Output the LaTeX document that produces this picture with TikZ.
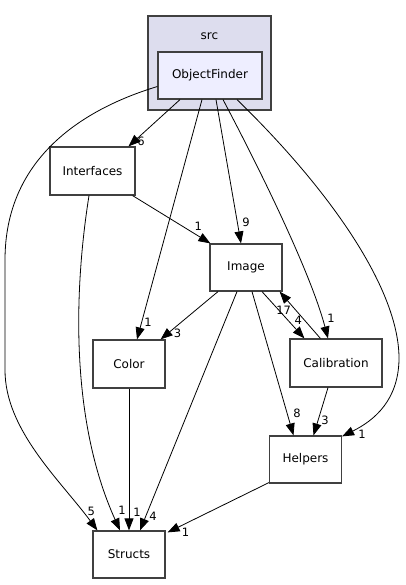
\documentclass[tikz,border=0pt]{standalone}
\usepackage{fontspec}
\setmainfont{DejaVu Sans}
\usepackage{tikz}
\usetikzlibrary{calc}
\usetikzlibrary{positioning}
\usetikzlibrary{arrows.meta}
\definecolor{clusterfill}{HTML}{DDDDEE}
\definecolor{mainfill}{HTML}{EEEEFF}
\definecolor{boxline}{HTML}{404040}
\tikzstyle{dirnode} = [draw=boxline, line width=1.2pt, rectangle, minimum width=72pt, minimum height=47pt, inner sep=0pt, align=center, font=\fontsize{12}{14}\selectfont]
\tikzstyle{clusternode} = [draw=boxline, line width=1.2pt, fill=clusterfill, rectangle, minimum width=123pt, minimum height=94pt, inner sep=0pt]
\tikzstyle{edge} = [-{Triangle[length=12pt,width=9pt]}, line width=0.8pt]
\tikzstyle{elabel} = [inner sep=0pt, font=\fontsize{11.5}{13}\selectfont]

\begin{document}
\begin{tikzpicture}[x=1pt, y=-1pt]
    \useasboundingbox (0,0) rectangle (405,585);

    \node[clusternode] (src) at (209.5,63) {};
    \node[elabel, font=\fontsize{12}{14}\selectfont] (src_label) at ($(src.north)+(0,21)$) {src};
    \node[dirnode, fill=mainfill, minimum width=104pt] (objfinder) at ($(src)+(0.5,12.5)$) {ObjectFinder};

    \node[dirnode, minimum width=85pt, minimum height=48pt] (interfaces) at ($(objfinder)+(-117.5,95.5)$) {Interfaces};
    \node[dirnode] (image) at ($(objfinder)+(36,192)$) {Image};
    \node[dirnode, minimum height=48pt] (color) at ($(image)+(-117,96.5)$) {Color};
    \node[dirnode, minimum width=92pt, minimum height=48pt] (calibration) at ($(image)+(90,95.5)$) {Calibration};
    \node[dirnode] (helpers) at ($(calibration)+(-30.5,96.5)$) {Helpers};
    \node[dirnode] (structs) at ($(color)+(0,190.5)$) {Structs};

    \draw[edge] ($(objfinder.south)+(-30,0)$) -- ($(interfaces.north)+(36,0)$) node[elabel, shift={(12.5,-5)}] {6};
    \draw[edge] ($(objfinder.west)+(0,11)$) .. controls (80,110) and (5,160) .. (5,260) -- (5,370) .. controls (5,430) and (60,480) .. ($(structs.north west)+(5,0)$) node[elabel, shift={(-6,-19)}] {5};
    \draw[edge] ($(objfinder.south)+(-8,0)$) -- ($(color.north)+(8,0)$) node[elabel, shift={(11,-17)}] {1};
    \draw[edge] ($(objfinder.south)+(6,0)$) -- ($(image.north)+(-5,0)$) node[elabel, shift={(5,-21)}] {9};
    \draw[edge] ($(objfinder.south)+(13,0)$) .. controls (255,160) and (310,270) .. ($(calibration.north)+(-8,0)$) node[elabel, shift={(3,-20)}] {1};
    \draw[edge] ($(objfinder.south)+(27,0)$) .. controls (330,190) and (400,290) .. (399,360) .. controls (398,400) and (375,420) .. ($(helpers.north east)+(0,1)$) node[elabel, shift={(20,-2)}] {1};

    \draw[edge] ($(interfaces.south east)+(-3,0)$) -- ($(image.north west)+(1,0)$) node[elabel, shift={(-12,-17)}] {1};
    \draw[edge] ($(interfaces.south)+(-3.5,0)$) .. controls (74,290) and (70,420) .. ($(structs.north)+(-9,0)$) node[elabel, shift={(2,-20)}] {1};

    \draw[edge] ($(image.south)+(-28,0)$) -- ($(color.north east)+(-5,0)$) node[elabel, shift={(17,-6)}] {3};
    \draw[edge] ($(image.south)+(-9,0)$) -- ($(structs.north)+(11,0)$) node[elabel, shift={(13,-14)}] {4};
    \draw[edge] ($(image.south)+(16,0)$) -- ($(calibration.north west)+(15,0)$) node[elabel, shift={(-6,-18)}] {4};
    \draw[edge] ($(calibration.north west)+(31,0)$) -- ($(image.south east)+(-3,0)$) node[elabel, shift={(4,19)}] {17};
    \draw[edge] ($(image.south)+(6,0)$) -- ($(helpers.north)+(-12,0)$) node[elabel, shift={(3.5,-22)}] {8};

    \draw[edge] ($(calibration.south)+(-8,0)$) -- ($(helpers.north)+(8,0)$) node[elabel, shift={(11.5,-15)}] {3};
    \draw[edge] ($(helpers.south west)+(0,-1)$) -- ($(structs.north east)+(2,2)$) node[elabel, shift={(18,0)}] {1};
    \draw[edge] (color.south) -- (structs.north) node[elabel, shift={(8,-18)}] {1};
\end{tikzpicture}
\end{document}
